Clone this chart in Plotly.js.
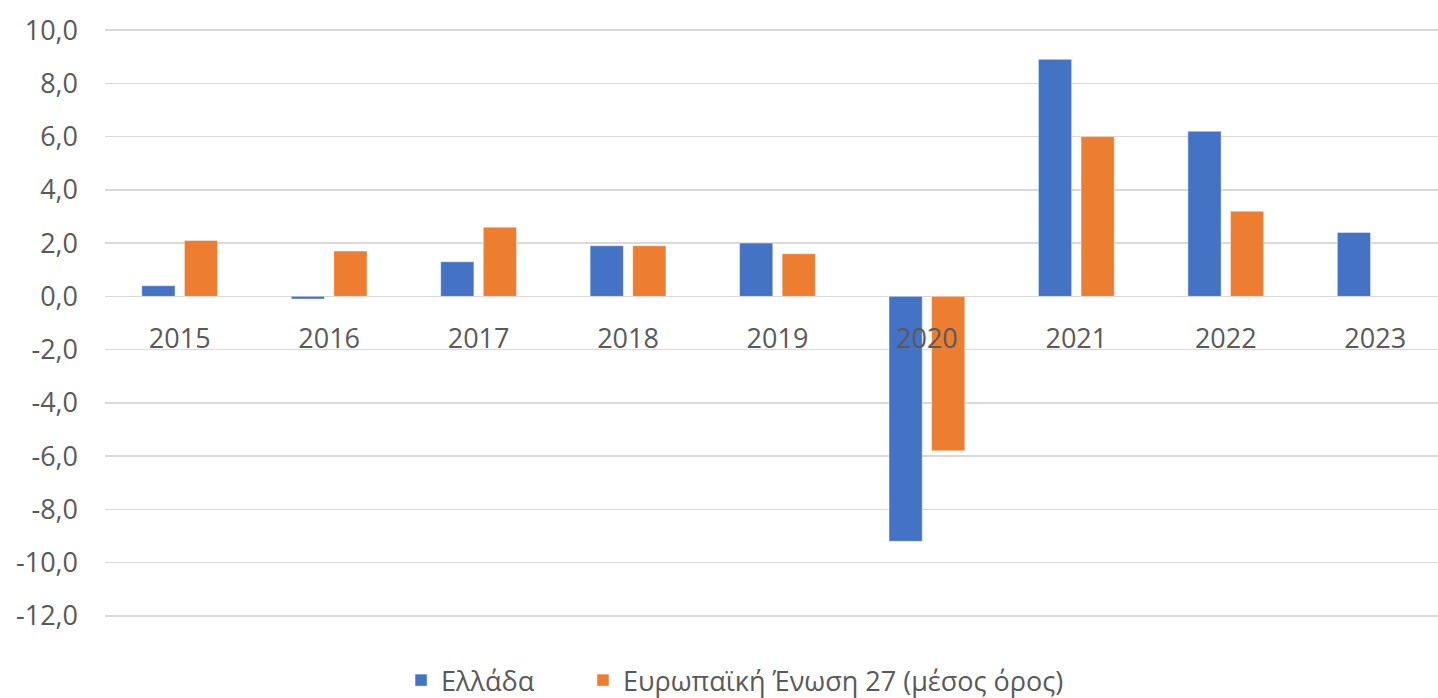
<!DOCTYPE html>
<html>
<head>
<meta charset="utf-8">
<script src="https://cdn.plot.ly/plotly-3.0.1.min.js"></script>
<style>html,body{margin:0;padding:0;background:#fff;}#chart{width:1438px;height:698px;}</style>
</head>
<body>
<div id="chart"></div>
<script>
const years = ["2015","2016","2017","2018","2019","2020","2021","2022","2023"];
const greece = [0.4, -0.1, 1.3, 1.9, 2.0, -9.2, 8.9, 6.2, 2.4];
const eu27 = [2.1, 1.7, 2.6, 1.9, 1.6, -5.8, 6.0, 3.2, null];
const seriesNames = ["Ελλάδα", "Ευρωπαϊκή Ένωση 27 (μέσος όρος)"];
const yTicks = [10, 8, 6, 4, 2, 0, -2, -4, -6, -8, -10, -12];
const yTickText = yTicks.map(v => v.toFixed(1).replace(".", ","));

const font = "Open Sans, Liberation Sans, sans-serif";
const traces = [
  {type: "bar", name: seriesNames[0], x: years, y: greece, legend: "legend",
   marker: {color: "#4472C4", line: {color: "rgba(255,255,255,0.45)", width: 1}}},
  {type: "bar", name: seriesNames[1], x: years, y: eu27, legend: "legend2",
   marker: {color: "#ED7D31", line: {color: "rgba(255,255,255,0.45)", width: 1}}}
];
const legendBase = {
  orientation: "h", xref: "container", yref: "container",
  xanchor: "left", y: 0.025, yanchor: "middle",
  font: {family: font, size: 27, color: "#595959"},
  itemwidth: 30, bgcolor: "rgba(0,0,0,0)"
};
const layout = {
  width: 1438, height: 698,
  margin: {l: 105, r: 0, t: 29, b: 81},
  paper_bgcolor: "#fff", plot_bgcolor: "#fff",
  barmode: "group", bargap: 0.43, bargroupgap: 0.22,
  showlegend: true,
  font: {family: font, color: "#595959", size: 27},
  xaxis: {
    type: "category", range: [-0.5, 8.42], anchor: "free", position: 12.04/22.08,
    showgrid: false, showline: false, zeroline: false, ticks: "",
    ticklabelstandoff: 24,
    tickfont: {family: font, size: 27, color: "#595959"}
  },
  yaxis: {
    range: [-12.04, 10.04], tickmode: "array", tickvals: yTicks, ticktext: yTickText,
    showgrid: true, gridcolor: "#D9D9D9", gridwidth: 1.5,
    zeroline: true, zerolinecolor: "#D9D9D9", zerolinewidth: 1.5,
    showline: false, ticks: "", ticklabelstandoff: 26,
    tickfont: {family: font, size: 27, color: "#595959"}
  },
  legend: Object.assign({}, legendBase, {x: 0.2789}),
  legend2: Object.assign({}, legendBase, {x: 0.4054})
};
Plotly.newPlot("chart", traces, layout, {displayModeBar: false, staticPlot: true});
</script>
</body>
</html>
